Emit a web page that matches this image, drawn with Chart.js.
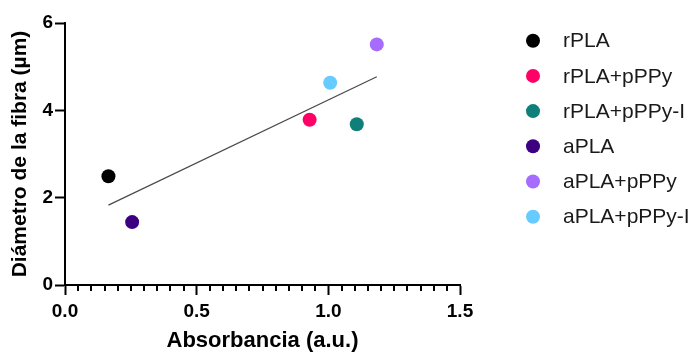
<!DOCTYPE html>
<html>
<head>
<meta charset="utf-8">
<script src="https://cdn.jsdelivr.net/npm/chart.js@4/dist/chart.umd.min.js"></script>
<style>
  html, body { margin: 0; padding: 0; background: #fff; }
  #wrap { width: 695px; height: 352px; position: relative; }
</style>
</head>
<body>
<div id="wrap"><canvas id="c"></canvas></div>
<script>
// Fibre diameter vs. absorbance for each sample
const groups = ['rPLA', 'rPLA+pPPy', 'rPLA+pPPy-I', 'aPLA', 'aPLA+pPPy', 'aPLA+pPPy-I'];
const absorbance = [0.165, 0.929, 1.108, 0.255, 1.184, 1.007];
const diameter = [2.49, 3.785, 3.68, 1.44, 5.51, 4.63];
const groupColors = ['#000000', '#FF0066', '#0F7F7A', '#3D0080', '#A66BFF', '#66CCFF'];

// Linear trend line endpoints
const trendX = [0.165, 1.184];
const trendY = [1.83, 4.77];

// Axis ticks
const xMajorTicks = [0.0, 0.5, 1.0, 1.5];
const yTicks = [0, 2, 4, 6];

const FONT = "'Liberation Sans', Arial, Helvetica, sans-serif";

const datasets = groups.map((g, i) => ({
  type: 'scatter',
  label: g,
  data: [{ x: absorbance[i], y: diameter[i] }],
  backgroundColor: groupColors[i],
  borderWidth: 0,
  pointRadius: 7,
  pointHoverRadius: 7,
  order: 1
}));

datasets.push({
  type: 'line',
  label: 'trend',
  data: trendX.map((x, i) => ({ x: x, y: trendY[i] })),
  borderColor: '#4a4a4a',
  borderWidth: 1.2,
  pointRadius: 0,
  fill: false,
  order: 2
});

const isMajor = v => xMajorTicks.some(m => Math.abs(m - v) < 1e-6);

// Short minor ticks on the x axis and a point legend on the right
const extras = {
  id: 'extras',
  afterDraw(chart) {
    const ctx = chart.ctx;
    const xs = chart.scales.x;
    const bottom = chart.chartArea.bottom;
    ctx.save();
    ctx.strokeStyle = '#000';
    ctx.lineWidth = 2;
    xs.ticks.forEach(t => {
      if (isMajor(t.value)) return;
      const px = Math.round(xs.getPixelForValue(t.value));
      ctx.beginPath();
      ctx.moveTo(px, bottom);
      ctx.lineTo(px, bottom + 6);
      ctx.stroke();
    });

    const lx = 533, ly0 = 40.7, step = 35.2, textX = 563;
    ctx.font = '21px ' + FONT;
    ctx.textBaseline = 'middle';
    ctx.textAlign = 'left';
    chart.data.datasets.forEach((ds, i) => {
      if (ds.type !== 'scatter') return;
      const y = ly0 + i * step;
      ctx.fillStyle = ds.backgroundColor;
      ctx.beginPath();
      ctx.arc(lx, y, 7, 0, Math.PI * 2);
      ctx.fill();
      ctx.fillStyle = '#1a1a1a';
      ctx.fillText(ds.label, textX, y + 1);
    });
    ctx.restore();
  }
};

new Chart(document.getElementById('c'), {
  type: 'scatter',
  data: { datasets },
  plugins: [extras],
  options: {
    responsive: true,
    maintainAspectRatio: false,
    animation: false,
    devicePixelRatio: 1,
    layout: { padding: { left: 0, top: 23, right: 235, bottom: 0 } },
    plugins: {
      legend: { display: false },
      tooltip: { enabled: false }
    },
    scales: {
      x: {
        type: 'linear',
        min: 0,
        max: 1.5,
        afterFit(s) { s.height = 67; },
        afterBuildTicks(s) {
          const t = [];
          for (let k = 0; k <= 30; k++) t.push({ value: Math.round(k * 5) / 100 });
          s.ticks = t;
        },
        border: { display: true, color: '#000', width: 2 },
        grid: {
          drawOnChartArea: false,
          drawTicks: true,
          tickLength: 10,
          tickWidth: 2,
          tickColor: ctx => (ctx.tick && isMajor(ctx.tick.value)) ? '#000' : 'rgba(0,0,0,0)'
        },
        ticks: {
          autoSkip: false,
          maxRotation: 0,
          padding: 5,
          color: '#000',
          font: { family: FONT, size: 19, weight: 'bold' },
          callback: v => isMajor(v) ? v.toFixed(1) : ''
        },
        title: {
          display: true,
          text: 'Absorbancia (a.u.)',
          color: '#000',
          padding: 0,
          font: { family: FONT, size: 22, weight: 'bold', lineHeight: 1 }
        }
      },
      y: {
        type: 'linear',
        min: 0,
        max: 6,
        afterFit(s) { s.width = 65; },
        afterBuildTicks(s) { s.ticks = yTicks.map(v => ({ value: v })); },
        border: { display: true, color: '#000', width: 2 },
        grid: {
          drawOnChartArea: false,
          drawTicks: true,
          tickLength: 10,
          tickWidth: 2,
          tickColor: '#000'
        },
        ticks: {
          padding: 2,
          color: '#000',
          font: { family: FONT, size: 19, weight: 'bold' },
          callback: v => String(v)
        },
        title: {
          display: true,
          text: 'Diámetro de la fibra (µm)',
          color: '#000',
          padding: { top: 10, bottom: 0 },
          font: { family: FONT, size: 21, weight: 'bold', lineHeight: 1 }
        }
      }
    }
  }
});
</script>
</body>
</html>
